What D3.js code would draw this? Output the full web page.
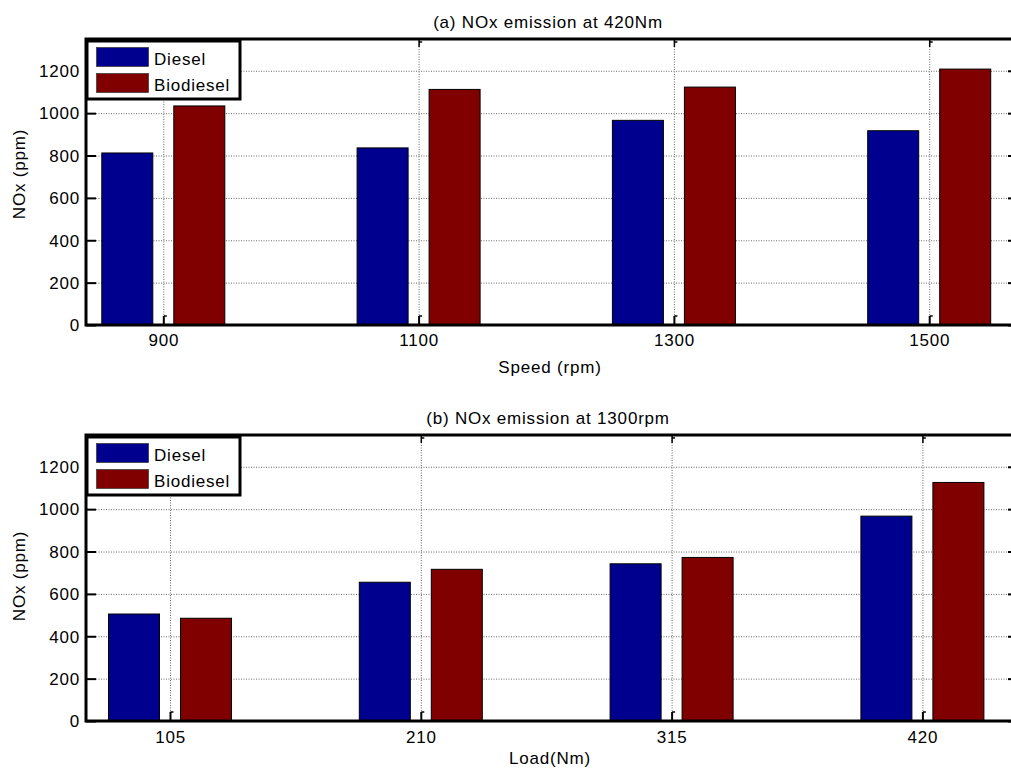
<!DOCTYPE html>
<html>
<head>
<meta charset="utf-8">
<script src="https://cdn.jsdelivr.net/npm/d3@7/dist/d3.min.js"></script>
<style>
  html, body { margin: 0; padding: 0; background: #fff; }
  svg { display: block; }
  text { font-family: "Liberation Sans", Arial, Helvetica, sans-serif; font-size: 17px; letter-spacing: 0.8px; fill: #000; }
</style>
</head>
<body>
<svg id="chart" width="1011" height="769"></svg>
<script>
// ---- data ----
const speedCategories = ["900", "1100", "1300", "1500"];
const speedDiesel = [812, 836, 966, 917];
const speedBiodiesel = [1034, 1112, 1123, 1208];

const loadCategories = ["105", "210", "315", "420"];
const loadDiesel = [505, 655, 742, 967];
const loadBiodiesel = [485, 716, 772, 1126];

const yTicks = [0, 200, 400, 600, 800, 1000, 1200];
const yMax = 1350;
const seriesNames = ["Diesel", "Biodiesel"];
const seriesColors = ["#00008f", "#800000"];

const titles = ["(a) NOx emission at 420Nm", "(b) NOx emission at 1300rpm"];
const xLabels = ["Speed (rpm)", "Load(Nm)"];
const yLabel = "NOx (ppm)";

// ---- layout ----
const svg = d3.select("#chart");
const left = 86, right = 1018;
const panels = [
  { cats: speedCategories, series: [speedDiesel, speedBiodiesel], title: titles[0], xLabel: xLabels[0],
    top: 39, bottom: 325, xFirst: 163.3, xStep: 255.3, titleY: 28, tickY: 346, xLabelY: 373, yLabelY: 174 },
  { cats: loadCategories, series: [loadDiesel, loadBiodiesel], title: titles[1], xLabel: xLabels[1],
    top: 435, bottom: 721, xFirst: 170, xStep: 250.8, titleY: 424, tickY: 743, xLabelY: 764, yLabelY: 576 }
];
const barW = 51, barOff = 36;

panels.forEach(p => {
  const g = svg.append("g");
  const y = d3.scaleLinear().domain([0, yMax]).range([p.bottom, p.top]);
  const x = d3.scaleLinear().domain([0, p.cats.length - 1])
    .range([p.xFirst, p.xFirst + (p.cats.length - 1) * p.xStep]);
  const idx = d3.range(p.cats.length);

  // horizontal grid
  const gy = g.append("g").attr("transform", `translate(${left},0)`)
    .call(d3.axisLeft(y).tickValues(yTicks.filter(v => v > 0)).tickSize(-(right - left)).tickFormat(""));
  gy.select(".domain").remove();
  gy.selectAll("line").attr("stroke", "#6a6a6a").attr("stroke-width", 1).attr("stroke-dasharray", "1,1.5");

  // vertical grid
  const gx = g.append("g").attr("transform", `translate(0,${p.top})`)
    .call(d3.axisBottom(x).tickValues(idx).tickSize(p.bottom - p.top).tickFormat(""));
  gx.select(".domain").remove();
  gx.selectAll("line").attr("stroke", "#6a6a6a").attr("stroke-width", 1).attr("stroke-dasharray", "1,1.5");

  // bars
  p.series.forEach((vals, s) => {
    g.selectAll(null).data(vals).enter().append("rect")
      .attr("x", (d, i) => x(i) + (s === 0 ? -barOff - barW / 2 : barOff - barW / 2))
      .attr("y", d => y(d))
      .attr("width", barW)
      .attr("height", d => y(0) - y(d))
      .attr("fill", seriesColors[s])
      .attr("stroke", "#000")
      .attr("stroke-width", 1);
  });

  // frame
  g.append("rect").attr("x", left).attr("y", p.top).attr("width", right - left).attr("height", p.bottom - p.top)
    .attr("fill", "none").attr("stroke", "#000").attr("stroke-width", 3);

  // left y axis (ticks inward + labels)
  const ya = g.append("g").attr("transform", `translate(${left},0)`)
    .call(d3.axisLeft(y).tickValues(yTicks).tickSizeInner(-10).tickSizeOuter(0).tickFormat(d3.format("d")));
  ya.select(".domain").remove();
  ya.selectAll("line").attr("stroke", "#000").attr("stroke-width", 2);
  ya.selectAll("text").attr("font-size", null).attr("font-family", null).attr("x", -6).attr("dy", "0.34em");

  // right y ticks
  const yr = g.append("g").attr("transform", `translate(${right},0)`)
    .call(d3.axisRight(y).tickValues(yTicks).tickSizeInner(-10).tickSizeOuter(0).tickFormat(""));
  yr.select(".domain").remove();
  yr.selectAll("line").attr("stroke", "#000").attr("stroke-width", 2);

  // bottom x axis ticks + labels
  const xa = g.append("g").attr("transform", `translate(0,${p.bottom})`)
    .call(d3.axisBottom(x).tickValues(idx).tickSizeInner(-9).tickSizeOuter(0).tickFormat(i => p.cats[i]));
  xa.select(".domain").remove();
  xa.selectAll("line").attr("stroke", "#000").attr("stroke-width", 2);
  xa.selectAll("text").attr("font-size", null).attr("font-family", null)
    .attr("y", p.tickY - p.bottom).attr("dy", null);
  xa.selectAll(".tick").append("line").attr("x1", 0).attr("x2", 3).attr("y1", -9).attr("y2", -9)
    .attr("stroke", "#000").attr("stroke-width", 1.5);

  // top x ticks
  const xt = g.append("g").attr("transform", `translate(0,${p.top})`)
    .call(d3.axisTop(x).tickValues(idx).tickSizeInner(-8).tickSizeOuter(0).tickFormat(""));
  xt.select(".domain").remove();
  xt.selectAll("line").attr("stroke", "#000").attr("stroke-width", 1.5);
  xt.selectAll(".tick").append("line").attr("x1", 0).attr("x2", 3).attr("y1", 3).attr("y2", 3)
    .attr("stroke", "#000").attr("stroke-width", 1.5);

  // title
  g.append("text").attr("x", (left + right) / 2 - 4).attr("y", p.titleY).attr("text-anchor", "middle").text(p.title);
  // x label
  g.append("text").attr("x", (left + right) / 2 - 2).attr("y", p.xLabelY).attr("text-anchor", "middle").text(p.xLabel);
  // y label
  g.append("text").attr("transform", `translate(25,${p.yLabelY}) rotate(-90)`).attr("text-anchor", "middle").text(yLabel);

  // legend
  const lg = g.append("g").attr("transform", `translate(${left + 1},${p.top + 2})`);
  lg.append("rect").attr("x", 0).attr("y", 0).attr("width", 153).attr("height", 58)
    .attr("fill", "#fff").attr("stroke", "#000").attr("stroke-width", 3);
  seriesNames.forEach((name, s) => {
    lg.append("rect").attr("x", 9.5).attr("y", 6.5 + s * 26).attr("width", 52).attr("height", 19)
      .attr("fill", seriesColors[s]).attr("stroke", "#333").attr("stroke-width", 0.7);
    lg.append("text").attr("x", 67).attr("y", 24 + s * 26).text(name);
  });
});
</script>
</body>
</html>
